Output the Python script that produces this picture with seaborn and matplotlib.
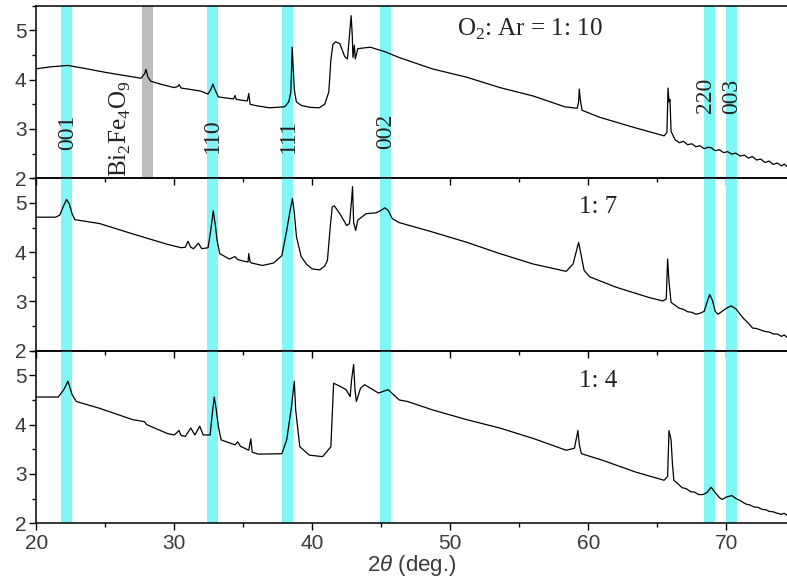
import numpy as np
import pandas as pd
import matplotlib
matplotlib.use('Agg')
import matplotlib.pyplot as plt
import seaborn as sns
from matplotlib.ticker import MultipleLocator

# --- data (2theta in deg, log intensity) ---
tth_10 = [20.0, 21.0, 22.3, 23.5, 25.0, 26.5, 27.6, 27.85, 27.95, 28.1, 28.3, 29.0,
          30.0, 30.25, 30.35, 30.5, 31.0, 31.9, 32.45, 32.65, 32.8, 32.95, 33.2,
          34.0, 34.3, 34.4, 34.5, 35.0, 35.3, 35.4, 35.5, 36.0, 36.9, 38.0, 38.3,
          38.45, 38.55, 38.62, 38.7, 38.85, 39.2, 39.8, 40.5, 40.9, 41.2, 41.35,
          41.5, 41.7, 42.0, 42.35, 42.55, 42.7, 42.82, 42.9, 42.95, 43.05, 43.12,
          43.3, 44.2, 45.25, 46.3, 48.7, 51.2, 53.6, 56.0, 58.3, 59.2, 59.3, 59.35,
          59.42, 59.55, 60.8, 63.2, 65.5, 65.7, 65.78, 65.85, 65.92, 66.0,
          66.3, 66.6, 66.9, 67.2, 67.5, 67.8, 68.1, 68.4, 68.7, 68.9, 69.2, 69.5,
          69.8, 70.1, 70.4, 70.7, 71.0, 71.3, 71.6, 71.9, 72.2, 72.5, 72.8, 73.1,
          73.4, 73.7, 74.0, 74.2, 74.4]
int_10 = [4.22, 4.26, 4.29, 4.23, 4.15, 4.08, 4.03, 4.12, 4.21, 4.05, 3.97, 3.91,
          3.84, 3.86, 3.90, 3.83, 3.81, 3.77, 3.71, 3.80, 3.91, 3.80, 3.65,
          3.62, 3.61, 3.68, 3.60, 3.58, 3.57, 3.72, 3.50, 3.47, 3.43, 3.45, 3.55,
          3.75, 4.66, 4.25, 3.80, 3.55, 3.48, 3.44, 3.43, 3.50, 3.75, 4.40,
          4.72, 4.77, 4.73, 4.47, 4.42, 4.90, 5.30, 4.90, 4.45, 4.70, 4.42,
          4.63, 4.66, 4.57, 4.45, 4.22, 4.05, 3.84, 3.67, 3.45, 3.42, 3.55, 3.81,
          3.60, 3.38, 3.24, 3.04, 2.86, 2.93, 3.83, 3.55, 3.60, 2.95,
          2.78, 2.72, 2.75, 2.68, 2.70, 2.64, 2.66, 2.60, 2.63, 2.62, 2.56, 2.58,
          2.52, 2.54, 2.49, 2.51, 2.45, 2.47, 2.41, 2.44, 2.37, 2.39, 2.32, 2.35,
          2.28, 2.31, 2.25, 2.29, 2.24]

tth_7 = [20.0, 21.4, 21.7, 22.0, 22.2, 22.4, 22.6, 22.8, 24.6, 27.0, 29.5, 30.5,
         30.8, 31.0, 31.2, 31.4, 31.75, 32.0, 32.45, 32.65, 32.83, 33.0, 33.1, 33.3,
         34.0, 34.4, 34.6, 35.0, 35.35, 35.4, 35.5, 35.6, 36.4, 37.2, 37.8, 38.15,
         38.4, 38.57, 38.7, 38.86, 39.2, 39.6, 40.0, 40.55, 40.9, 41.1, 41.3, 41.45,
         41.6, 42.0, 42.5, 42.7, 42.85, 42.92, 43.0, 43.15, 43.3, 43.9, 44.65, 45.0,
         45.25, 45.5, 45.8, 46.3, 48.7, 51.2, 53.6, 56.0, 58.4, 58.9, 59.3, 59.7,
         60.1, 62.0, 64.4, 65.4, 65.65, 65.75, 65.85, 66.0,
         66.3, 66.6, 66.9, 67.2, 67.5, 67.8, 68.1, 68.4, 68.6, 68.8, 69.0, 69.2,
         69.4, 69.7, 70.0, 70.35, 70.7, 71.0, 71.3, 71.6, 71.9, 72.2, 72.5, 72.8,
         73.1, 73.4, 73.7, 74.0, 74.2, 74.4]
int_7 = [4.71, 4.71, 4.75, 4.95, 5.07, 4.98, 4.78, 4.66, 4.58, 4.37, 4.16, 4.09,
         4.10, 4.22, 4.10, 4.07, 4.18, 4.07, 4.09, 4.45, 4.84, 4.50, 4.25, 3.97,
         3.86, 3.91, 3.85, 3.82, 3.80, 3.97, 3.80, 3.78, 3.73, 3.78, 3.93, 4.44,
         4.85, 5.09, 4.80, 4.31, 3.91, 3.75, 3.66, 3.64, 3.72, 3.83, 4.50, 4.92,
         4.94, 4.78, 4.54, 4.58, 5.05, 5.33, 4.60, 4.44, 4.65, 4.78, 4.80, 4.85,
         4.90, 4.85, 4.68, 4.60, 4.41, 4.20, 3.97, 3.76, 3.61, 3.76, 4.20, 3.63,
         3.50, 3.29, 3.08, 3.01, 3.05, 3.86, 3.40, 2.98,
         2.92, 2.86, 2.84, 2.79, 2.78, 2.74, 2.76, 2.80, 2.98, 3.14, 3.02, 2.80,
         2.74, 2.80, 2.86, 2.91, 2.85, 2.74, 2.64, 2.56, 2.46, 2.45, 2.42, 2.39,
         2.38, 2.34, 2.34, 2.29, 2.32, 2.27]

tth_4 = [20.0, 21.6, 22.0, 22.3, 22.6, 22.9, 24.6, 27.0, 27.85, 28.0, 29.5, 30.0,
         30.35, 30.5, 30.8, 31.2, 31.5, 31.85, 32.1, 32.6, 32.75, 32.9, 33.05, 33.2,
         33.4, 34.4, 34.6, 34.8, 35.4, 35.55, 35.65, 36.1, 37.8, 38.15, 38.5, 38.7,
         38.8, 39.1, 39.8, 40.75, 41.35, 41.55, 42.0, 42.45, 42.75, 42.85, 43.0,
         43.1, 43.2, 43.5, 43.8, 44.8, 45.5, 46.3, 46.9, 48.7, 51.2, 53.6, 56.0,
         58.4, 59.0, 59.25, 59.35, 59.5, 61.0, 63.4, 65.5, 65.75, 65.85, 66.0, 66.1,
         66.2, 66.5, 66.8, 67.1, 67.4, 67.7, 68.0, 68.3, 68.6, 68.9, 69.2, 69.5,
         69.7, 70.0, 70.4, 70.7, 71.0, 71.4, 71.7, 72.0, 72.3, 72.6, 72.9, 73.1,
         73.4, 73.7, 74.0, 74.2, 74.4]
int_4 = [4.56, 4.56, 4.71, 4.88, 4.61, 4.47, 4.33, 4.10, 4.06, 4.00, 3.82, 3.79,
         3.88, 3.78, 3.76, 3.93, 3.79, 3.97, 3.79, 3.79, 4.20, 4.56, 4.30, 3.96,
         3.69, 3.59, 3.65, 3.56, 3.48, 3.71, 3.44, 3.40, 3.41, 3.69, 4.37, 4.88,
         4.30, 3.55, 3.38, 3.35, 3.55, 4.84, 4.78, 4.71, 4.57, 4.91, 5.22,
         4.70, 4.47, 4.74, 4.81, 4.64, 4.71, 4.50, 4.47, 4.30, 4.10, 3.93, 3.72,
         3.48, 3.52, 3.88, 3.60, 3.41, 3.28, 3.04, 2.87, 2.95, 3.88, 3.69, 3.20,
         2.87, 2.80, 2.72, 2.70, 2.64, 2.63, 2.58, 2.58, 2.62, 2.73, 2.62, 2.52,
         2.48, 2.53, 2.56, 2.50, 2.46, 2.39, 2.37, 2.33, 2.32, 2.28, 2.27, 2.24,
         2.23, 2.20, 2.18, 2.20, 2.16]

ratio_labels = [r'O$_2$: Ar = 1: 10', '1: 7', '1: 4']
hkl_labels = ['001', '110', '111', '002', '220', '003']
hkl_pos = [22.2, 32.8, 38.2, 45.3, 68.8, 70.4]
impurity_pos = 28.05  # Bi2Fe4O9

# --- style ---
sns.set_theme(style='ticks')
plt.rcParams['font.family'] = ['Liberation Sans', 'DejaVu Sans']
plt.rcParams['mathtext.fontset'] = 'custom'
plt.rcParams['mathtext.rm'] = 'Liberation Serif'
plt.rcParams['mathtext.it'] = 'Liberation Sans:italic'
serif = ['Liberation Serif', 'DejaVu Serif']
band_color = '#80F6F6'
tick_color = '#3a3a3a'

fig, axes = plt.subplots(3, 1, sharex=True, figsize=(7.87, 5.80), dpi=100,
                         gridspec_kw={'hspace': 0})
fig.subplots_adjust(left=0.046, right=1.0, bottom=0.098, top=0.99)

curves = [(tth_10, int_10), (tth_7, int_7), (tth_4, int_4)]
text_xy = [(55.8, 5.02), (60.7, 4.92), (60.7, 4.88)]

for i, ax in enumerate(axes):
    ax.patch.set_alpha(0)
    for p in hkl_pos:
        ax.axvspan(p - 0.4, p + 0.4, color=band_color, lw=0, zorder=0)
    df = pd.DataFrame({'tth': curves[i][0], 'I': curves[i][1]})
    sns.lineplot(data=df, x='tth', y='I', ax=ax, color='black', lw=0.9,
                 sort=False, estimator=None, zorder=3)
    ax.set_xlim(20, 74.4)
    ax.set_ylim(2, 5.5)
    ax.yaxis.set_major_locator(MultipleLocator(1))
    ax.yaxis.set_minor_locator(MultipleLocator(0.5))
    ax.xaxis.set_major_locator(MultipleLocator(10))
    ax.xaxis.set_minor_locator(MultipleLocator(5))
    ax.tick_params(which='both', direction='out', colors='black',
                   labelcolor=tick_color, labelsize=15, width=1.0)
    ax.tick_params(which='major', length=5)
    ax.tick_params(which='minor', length=3)
    ax.tick_params(axis='y', pad=2)
    ax.spines['right'].set_visible(False)
    for s in ['left', 'top', 'bottom']:
        ax.spines[s].set_linewidth(1.1)
        ax.spines[s].set_color('black')
    ax.set_ylabel('')
    ax.set_xlabel('')
    ax.text(text_xy[i][0], text_xy[i][1], ratio_labels[i], fontsize=18,
            family=serif, ha='center', va='center', color='#222222')

top = axes[0]
top.axvspan(impurity_pos - 0.4, impurity_pos + 0.4, color='#BEBEBE', lw=0, zorder=0)
top.text(26.1, 2.02, r'Bi$_2$Fe$_4$O$_9$', rotation=90, fontsize=18,
         family=serif, ha='center', va='bottom', color='#222222')
label_x = [22.3, 32.8, 38.3, 45.3, 68.5, 70.4]
label_y = [2.94, 2.86, 2.86, 2.96, 3.69, 3.67]
for lab, lx, ly in zip(hkl_labels, label_x, label_y):
    top.text(lx, ly, lab, rotation=90, fontsize=17, family=serif,
             ha='center', va='center', color='#222222')

axes[2].set_xlabel(r'2$\theta$ (deg.)', fontsize=16, color=tick_color, labelpad=0)
axes[2].tick_params(axis='x', pad=3)

fig.savefig('out.png', dpi=100, facecolor='white')
